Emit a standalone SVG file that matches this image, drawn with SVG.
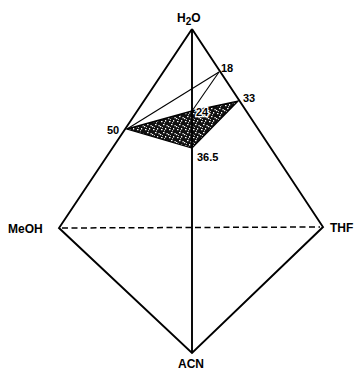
<svg xmlns="http://www.w3.org/2000/svg" width="362" height="371" viewBox="0 0 362 371">
<style>
.edge{stroke:#000;stroke-width:1.9;fill:none;stroke-linejoin:miter}
.thin{stroke:#000;stroke-width:1.1;fill:none}
.dash{stroke:#000;stroke-width:1.5;stroke-dasharray:6 3.5;fill:none}
.lbl{font-family:"Liberation Sans",Arial,sans-serif;font-weight:bold;font-size:12px;fill:#000}
.num{font-family:"Liberation Sans",Arial,sans-serif;font-weight:bold;font-size:11px;fill:#000}
.halo{stroke:#fff;stroke-width:2.5;paint-order:stroke}
</style>
<defs>
<pattern id="speck" width="8" height="8" patternUnits="userSpaceOnUse">
<rect width="8" height="8" fill="#111"/>
<rect x="1" y="1" width="1.5" height="1.2" fill="#fff"/>
<rect x="5" y="0" width="1.2" height="1.5" fill="#fff"/>
<rect x="3" y="4" width="1.5" height="1.2" fill="#fff"/>
<rect x="6.5" y="5" width="1.2" height="1.3" fill="#fff"/>
<rect x="0" y="6" width="1.3" height="1.2" fill="#fff"/>
<rect x="4" y="2.2" width="1" height="1" fill="#eee"/>
<rect x="2" y="7" width="1" height="0.8" fill="#eee"/>
</pattern>
</defs>
<g id="connectors">
<polygon id="region" points="127,129 192,111 238,101 192,148" fill="url(#speck)" stroke="#000" stroke-width="1.3"/>
<polyline class="edge" points="192,29 59,228 192,353 323,227 192,29"/>
<line class="edge" x1="192" y1="29" x2="192" y2="353"/>
<line class="dash" x1="62" y1="228" x2="320" y2="227"/>
<line class="thin" x1="127" y1="129" x2="219" y2="72"/>
<line class="thin" x1="192" y1="111" x2="219" y2="72"/>
</g>
<g id="h2o"><text class="lbl" x="177" y="22">H<tspan font-size="10" dy="3">2</tspan><tspan dy="-3">O</tspan></text></g>
<g id="meoh"><text class="lbl" x="8" y="233">MeOH</text></g>
<g id="thf"><text class="lbl" x="330" y="232">THF</text></g>
<g id="acn"><text class="lbl" x="178" y="368">ACN</text></g>
<g id="p18"><text class="num" x="221" y="72">18</text></g>
<g id="p33"><text class="num" x="243" y="102">33</text></g>
<g id="p24"><text class="num halo" x="196" y="116">24</text></g>
<g id="p50"><text class="num" x="107" y="134">50</text></g>
<g id="p365"><text class="num" x="197" y="161">36.5</text></g>
</svg>
